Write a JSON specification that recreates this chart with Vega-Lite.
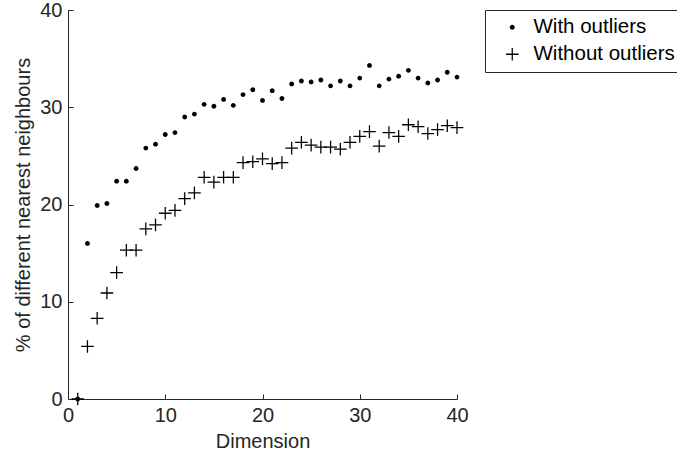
{
  "$schema": "https://vega.github.io/schema/vega-lite/v6.json",
  "autosize": {"type": "none"},
  "width": 389,
  "height": 389,
  "padding": {"left": 68, "top": 10, "right": 220, "bottom": 66},
  "background": "white",
  "config": {
    "font": "Liberation Sans",
    "view": {"stroke": null},
    "axis": {
      "domainColor": "#262626",
      "tickColor": "#262626",
      "labelColor": "#262626",
      "titleColor": "#262626",
      "labelFont": "Liberation Sans",
      "titleFont": "Liberation Sans",
      "labelFontSize": 20,
      "titleFontSize": 20,
      "titleFontWeight": "normal",
      "grid": false,
      "tickSize": -5,
      "domainWidth": 1,
      "tickWidth": 1
    }
  },
  "data": {
    "values": [
      {"dim": 1, "pct": 0, "series": "With outliers"},
      {"dim": 2, "pct": 16.0, "series": "With outliers"},
      {"dim": 3, "pct": 19.9, "series": "With outliers"},
      {"dim": 4, "pct": 20.1, "series": "With outliers"},
      {"dim": 5, "pct": 22.4, "series": "With outliers"},
      {"dim": 6, "pct": 22.4, "series": "With outliers"},
      {"dim": 7, "pct": 23.7, "series": "With outliers"},
      {"dim": 8, "pct": 25.8, "series": "With outliers"},
      {"dim": 9, "pct": 26.2, "series": "With outliers"},
      {"dim": 10, "pct": 27.2, "series": "With outliers"},
      {"dim": 11, "pct": 27.4, "series": "With outliers"},
      {"dim": 12, "pct": 29.0, "series": "With outliers"},
      {"dim": 13, "pct": 29.3, "series": "With outliers"},
      {"dim": 14, "pct": 30.3, "series": "With outliers"},
      {"dim": 15, "pct": 30.1, "series": "With outliers"},
      {"dim": 16, "pct": 30.8, "series": "With outliers"},
      {"dim": 17, "pct": 30.2, "series": "With outliers"},
      {"dim": 18, "pct": 31.3, "series": "With outliers"},
      {"dim": 19, "pct": 31.8, "series": "With outliers"},
      {"dim": 20, "pct": 30.7, "series": "With outliers"},
      {"dim": 21, "pct": 31.7, "series": "With outliers"},
      {"dim": 22, "pct": 30.9, "series": "With outliers"},
      {"dim": 23, "pct": 32.4, "series": "With outliers"},
      {"dim": 24, "pct": 32.7, "series": "With outliers"},
      {"dim": 25, "pct": 32.6, "series": "With outliers"},
      {"dim": 26, "pct": 32.8, "series": "With outliers"},
      {"dim": 27, "pct": 32.2, "series": "With outliers"},
      {"dim": 28, "pct": 32.7, "series": "With outliers"},
      {"dim": 29, "pct": 32.2, "series": "With outliers"},
      {"dim": 30, "pct": 33.0, "series": "With outliers"},
      {"dim": 31, "pct": 34.3, "series": "With outliers"},
      {"dim": 32, "pct": 32.2, "series": "With outliers"},
      {"dim": 33, "pct": 32.9, "series": "With outliers"},
      {"dim": 34, "pct": 33.2, "series": "With outliers"},
      {"dim": 35, "pct": 33.8, "series": "With outliers"},
      {"dim": 36, "pct": 33.0, "series": "With outliers"},
      {"dim": 37, "pct": 32.5, "series": "With outliers"},
      {"dim": 38, "pct": 32.8, "series": "With outliers"},
      {"dim": 39, "pct": 33.6, "series": "With outliers"},
      {"dim": 40, "pct": 33.1, "series": "With outliers"},
      {"dim": 1, "pct": 0, "series": "Without outliers"},
      {"dim": 2, "pct": 5.4, "series": "Without outliers"},
      {"dim": 3, "pct": 8.3, "series": "Without outliers"},
      {"dim": 4, "pct": 10.9, "series": "Without outliers"},
      {"dim": 5, "pct": 13.0, "series": "Without outliers"},
      {"dim": 6, "pct": 15.3, "series": "Without outliers"},
      {"dim": 7, "pct": 15.3, "series": "Without outliers"},
      {"dim": 8, "pct": 17.5, "series": "Without outliers"},
      {"dim": 9, "pct": 17.9, "series": "Without outliers"},
      {"dim": 10, "pct": 19.1, "series": "Without outliers"},
      {"dim": 11, "pct": 19.4, "series": "Without outliers"},
      {"dim": 12, "pct": 20.6, "series": "Without outliers"},
      {"dim": 13, "pct": 21.2, "series": "Without outliers"},
      {"dim": 14, "pct": 22.8, "series": "Without outliers"},
      {"dim": 15, "pct": 22.3, "series": "Without outliers"},
      {"dim": 16, "pct": 22.8, "series": "Without outliers"},
      {"dim": 17, "pct": 22.8, "series": "Without outliers"},
      {"dim": 18, "pct": 24.3, "series": "Without outliers"},
      {"dim": 19, "pct": 24.4, "series": "Without outliers"},
      {"dim": 20, "pct": 24.7, "series": "Without outliers"},
      {"dim": 21, "pct": 24.2, "series": "Without outliers"},
      {"dim": 22, "pct": 24.3, "series": "Without outliers"},
      {"dim": 23, "pct": 25.8, "series": "Without outliers"},
      {"dim": 24, "pct": 26.4, "series": "Without outliers"},
      {"dim": 25, "pct": 26.1, "series": "Without outliers"},
      {"dim": 26, "pct": 25.9, "series": "Without outliers"},
      {"dim": 27, "pct": 25.9, "series": "Without outliers"},
      {"dim": 28, "pct": 25.7, "series": "Without outliers"},
      {"dim": 29, "pct": 26.4, "series": "Without outliers"},
      {"dim": 30, "pct": 27.0, "series": "Without outliers"},
      {"dim": 31, "pct": 27.5, "series": "Without outliers"},
      {"dim": 32, "pct": 26.0, "series": "Without outliers"},
      {"dim": 33, "pct": 27.4, "series": "Without outliers"},
      {"dim": 34, "pct": 27.0, "series": "Without outliers"},
      {"dim": 35, "pct": 28.2, "series": "Without outliers"},
      {"dim": 36, "pct": 28.0, "series": "Without outliers"},
      {"dim": 37, "pct": 27.3, "series": "Without outliers"},
      {"dim": 38, "pct": 27.7, "series": "Without outliers"},
      {"dim": 39, "pct": 28.1, "series": "Without outliers"},
      {"dim": 40, "pct": 27.9, "series": "Without outliers"}
    ]
  },
  "mark": {
    "type": "point",
    "filled": true,
    "fill": "black",
    "strokeWidth": 0,
    "opacity": 1,
    "size": 160,
    "clip": false
  },
  "encoding": {
    "x": {
      "field": "dim",
      "type": "quantitative",
      "title": "Dimension",
      "scale": {"domain": [0, 40], "nice": false, "zero": false},
      "axis": {"values": [0, 10, 20, 30, 40], "format": "d", "labelPadding": 11, "titlePadding": 6, "labelFlush": false}
    },
    "y": {
      "field": "pct",
      "type": "quantitative",
      "title": "% of different nearest neighbours",
      "scale": {"domain": [0, 40], "nice": false},
      "axis": {"values": [0, 10, 20, 30, 40], "format": "d", "labelPadding": 11, "titlePadding": 6, "labelFlush": false}
    },
    "shape": {
      "field": "series",
      "type": "nominal",
      "scale": {
        "domain": ["With outliers", "Without outliers"],
        "range": [
          "M0.38,0A0.38,0.38 0 1,1 -0.38,0A0.38,0.38 0 1,1 0.38,0Z",
          "M-1,-0.1H-0.1V-1H0.1V-0.1H1V0.1H0.1V1H-0.1V0.1H-1Z"
        ]
      },
      "legend": {
        "title": null,
        "orient": "none",
        "legendX": 417,
        "legendY": 0,
        "strokeColor": "#262626",
        "fillColor": "white",
        "padding": 7,
        "rowPadding": 6,
        "symbolSize": 160,
        "symbolOffset": 10,
        "labelOffset": 11,
        "symbolStrokeWidth": 0,
        "symbolFillColor": "black",
        "labelFont": "Liberation Sans",
        "labelFontSize": 20.5,
        "labelColor": "black",
        "labelLimit": 400
      }
    }
  }
}
